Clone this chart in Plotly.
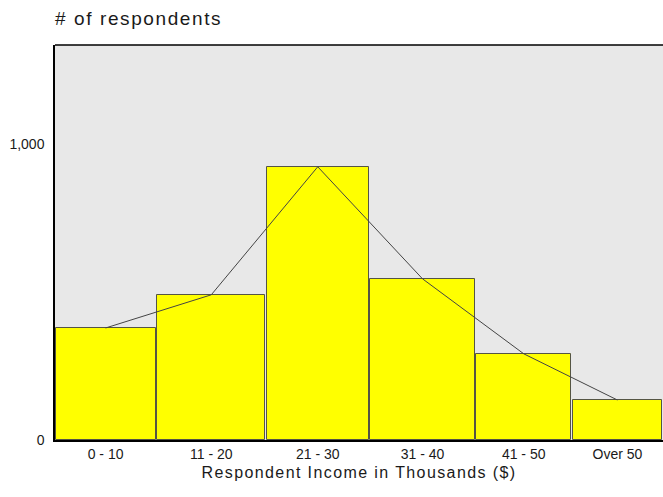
import numpy as np
import plotly.graph_objects as go

categories = ["0 - 10", "11 - 20", "21 - 30", "31 - 40", "41 - 50", "Over 50"]
respondents = [378, 490, 922, 544, 291, 135]
bin_widths = [101.5, 109.5, 103, 106, 96, 91]
y_tick_vals = [0, 1000]
y_tick_text = ["0", "1,000"]

edges = np.concatenate([[0], np.cumsum(bin_widths)])
centers = (edges[:-1] + edges[1:]) / 2
total = edges[-1]
gap = 1.6

fig = go.Figure()
fig.add_trace(go.Bar(
    x=centers, y=respondents, width=[w - gap for w in bin_widths],
    marker=dict(color="#FFFF00", line=dict(color="#555544", width=1)),
    hoverinfo="x+y", showlegend=False,
))
fig.add_trace(go.Scatter(
    x=centers, y=respondents, mode="lines",
    line=dict(color="#444444", width=1), showlegend=False,
))

font = "Liberation Sans, Arial, sans-serif"
fig.update_layout(
    width=663, height=497,
    margin=dict(l=55, r=0, t=45, b=57),
    paper_bgcolor="white", plot_bgcolor="#E8E8E8",
    font=dict(family=font, size=13, color="#1a1a1a"),
    title=dict(text="# of respondents", x=0, xref="paper", xanchor="left",
               y=1 - 18 / 497, yref="container", yanchor="middle",
               font=dict(family=font, size=19, color="#1a1a1a")),
    bargap=0,
)
fig.update_xaxes(
    range=[edges[0] + 0.3, total], tickvals=centers, ticktext=categories,
    showgrid=False, zeroline=False, ticks="", showline=True,
    linecolor="black", linewidth=2, mirror=False,
    title=dict(text="Respondent Income in Thousands ($)", standoff=6,
               font=dict(size=16)),
    tickfont=dict(size=14), fixedrange=True,
)
fig.update_yaxes(
    range=[0, 1333], tickvals=y_tick_vals, ticktext=y_tick_text,
    showgrid=False, zeroline=False, ticks="", showline=True,
    linecolor="black", linewidth=1.5, ticklabelstandoff=6,
    tickfont=dict(size=14), fixedrange=True,
)
fig.add_shape(type="line", xref="paper", yref="paper", x0=0, x1=1, y0=1, y1=1,
              line=dict(color="black", width=1.5))

post = """
document.body.style.margin='0';
document.querySelectorAll('.gtitle').forEach(function(e){e.style.letterSpacing='1.6px';});
document.querySelectorAll('.xtitle').forEach(function(e){e.style.letterSpacing='1.4px';});
"""
fig.write_html("out.html", post_script=post, config={"displayModeBar": False})
